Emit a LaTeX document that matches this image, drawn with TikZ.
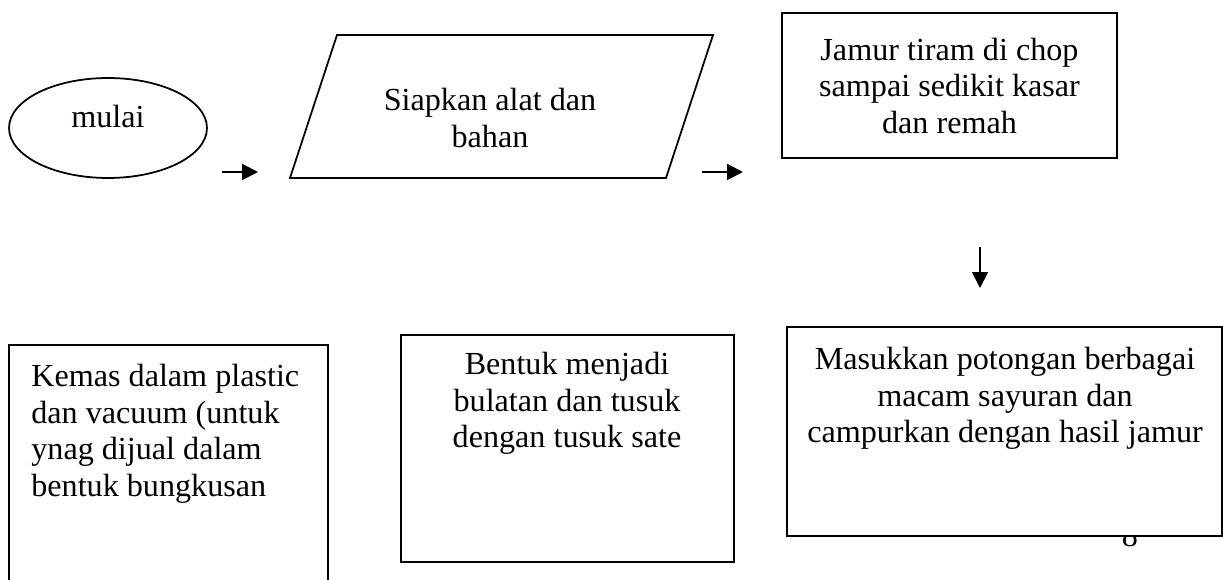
\documentclass[tikz,border=0pt]{standalone}
\usepackage{fontspec}
\setmainfont{Liberation Serif}
\usetikzlibrary{positioning,arrows.meta,shapes.geometric}

\tikzset{
  bodytext/.style={font=\fontsize{18.3}{20.8}\selectfont, inner sep=0pt, align=center},
  stepbox/.style={draw, line width=1pt, fill=white, inner sep=0pt},
  startnode/.style={draw, ellipse, line width=1pt, inner sep=0pt, minimum width=3.96cm, minimum height=2cm},
  flowarrow/.style={-{Triangle[length=9pt, width=9pt]}, line width=1.1pt}
}

\begin{document}
\begin{tikzpicture}[x=0.02cm, y=-0.02cm]
    \useasboundingbox (0,0) rectangle (1223,580);

    % Start
    \node[startnode] (mulai) at (108,128) {};
    \node[bodytext] (mulaitxt) at (108,117) {mulai};

    % Input: parallelogram
    \draw[line width=1pt] (290,178) -- (337,35) -- (713,35) -- (666,178) -- cycle;
    \node[bodytext] (siapkan) at (490,118) {Siapkan alat dan\\bahan};

    % Process boxes, top row
    \node[stepbox, minimum width=6.7cm, minimum height=2.9cm] (chop) at (949.5,85.5) {};
    \node[bodytext] (choptxt) at (949.5,86) {Jamur tiram di chop\\sampai sedikit kasar\\dan remah};

    % Page number behind the box
    \node[bodytext] (pagenum) at (1130,536) {8};

    % Process boxes, bottom row
    \node[stepbox, minimum width=8.7cm, minimum height=4.18cm] (masuk) at (1004.5,431.5) {};
    \node[bodytext, anchor=north] (masuktxt) at (1005,347) {Masukkan potongan berbagai\\macam sayuran dan\\campurkan dengan hasil jamur};

    \node[stepbox, minimum width=6.66cm, minimum height=4.54cm] (bentuk) at (567.5,448.5) {};
    \node[bodytext, anchor=north] (bentuktxt) at (567,352) {Bentuk menjadi\\bulatan dan tusuk\\dengan tusuk sate};

    \draw[line width=1pt] (9,590) -- (9,345) -- (328,345) -- (328,590);
    \node[bodytext, align=left, anchor=north west] (kemas) at (31,364) {Kemas dalam plastic\\dan vacuum (untuk\\ynag dijual dalam\\bentuk bungkusan};

    % Floating arrows
    \coordinate (a1s) at (222,172);
    \coordinate (a1e) at (258,172);
    \coordinate (a2s) at (702,172);
    \coordinate (a2e) at (743,172);
    \coordinate (a3s) at (980,247);
    \coordinate (a3e) at (980,288);
    \draw[flowarrow] (a1s) -- (a1e);
    \draw[flowarrow] (a2s) -- (a2e);
    \draw[flowarrow] (a3s) -- (a3e);
\end{tikzpicture}
\end{document}
